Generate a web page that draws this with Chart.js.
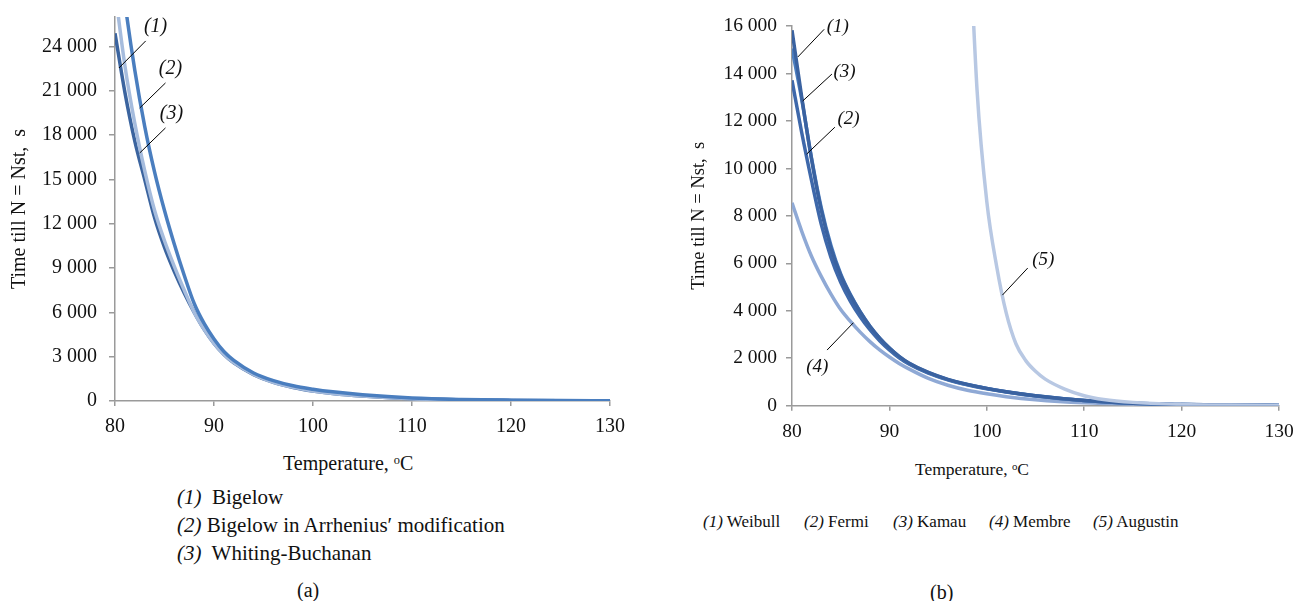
<!DOCTYPE html>
<html>
<head>
<meta charset="utf-8">
<script src="https://cdn.jsdelivr.net/npm/chart.js@4.4.1/dist/chart.umd.min.js"></script>
<style>
  body { margin: 0; width: 1296px; height: 601px; background: #fff; position: relative; overflow: hidden;
         font-family: "Liberation Serif", "Times New Roman", serif; color: #111; }
  .box { position: absolute; }
  .txt { position: absolute; white-space: nowrap; line-height: 1; }
  .txt i { font-style: italic; }
  .deg { font-size: 0.62em; position: relative; top: -0.5em; }
</style>
</head>
<body>
<div class="box" style="left:0;top:0"><canvas id="chartA" width="640" height="440"></canvas></div>
<div class="box" style="left:680px;top:0"><canvas id="chartB" width="616" height="440"></canvas></div>

<div class="txt" style="left:283px;top:453px;font-size:20px">Temperature, <span class="deg">o</span>C</div>
<div class="txt" style="left:177px;top:487px;font-size:21px"><i>(1)</i>&nbsp; Bigelow</div>
<div class="txt" style="left:177px;top:515px;font-size:21px"><i>(2)</i> Bigelow in Arrhenius′ modification</div>
<div class="txt" style="left:177px;top:543px;font-size:21px"><i>(3)</i>&nbsp; Whiting-Buchanan</div>
<div class="txt" style="left:297px;top:580px;font-size:20px">(a)</div>

<div class="txt" style="left:915px;top:461px;font-size:17.5px">Temperature, <span class="deg">o</span>C</div>
<div class="txt" style="left:703px;top:513px;font-size:17px"><i>(1)</i> Weibull</div>
<div class="txt" style="left:804px;top:513px;font-size:17px"><i>(2)</i> Fermi</div>
<div class="txt" style="left:893px;top:513px;font-size:17px"><i>(3)</i> Kamau</div>
<div class="txt" style="left:989px;top:513px;font-size:17px"><i>(4)</i> Membre</div>
<div class="txt" style="left:1093px;top:513px;font-size:17px"><i>(5)</i> Augustin</div>
<div class="txt" style="left:930px;top:582px;font-size:20px">(b)</div>

<script>
// temperatures, deg C
const temps = [80, 81, 82, 83, 84, 85, 86, 87, 88, 89, 90, 91, 92, 94, 96, 98, 100, 102, 105, 110, 115, 120, 125, 130];
const tempTicks = [80, 90, 100, 110, 120, 130];

// (a) time till N = Nst, s
const timeTicksA = [0, 3000, 6000, 9000, 12000, 15000, 18000, 21000, 24000];
const bigelow = [24900, 20900, 17600, 15000, 12400, 10400, 8750, 7300, 6000, 4850, 3900, 3150, 2580, 1790, 1260, 910, 670, 500, 330, 155, 78, 41, 22, 12];
const bigelowArrhenius = [32500, 27000, 22400, 18600, 15500, 12900, 10600, 8500, 6600, 5250, 4200, 3350, 2750, 1900, 1380, 1030, 800, 620, 420, 200, 100, 55, 30, 18];
const whitingBuchanan = [27800, 22700, 18800, 15600, 12900, 10850, 9100, 7500, 6000, 4850, 3900, 3150, 2600, 1800, 1270, 920, 680, 510, 340, 160, 80, 42, 23, 13];

// (b) time till N = Nst, s
const timeTicksB = [0, 2000, 4000, 6000, 8000, 10000, 12000, 14000, 16000];
const weibull = [15820, 13000, 10400, 8250, 6650, 5500, 4650, 3950, 3350, 2850, 2430, 2080, 1800, 1400, 1110, 900, 730, 590, 420, 220, 100, 50, 25, 12];
const fermi = [13710, 11500, 9500, 7650, 6250, 5200, 4400, 3750, 3200, 2740, 2350, 2020, 1760, 1370, 1090, 880, 715, 580, 410, 215, 98, 48, 24, 12];
const kamau = [15050, 12900, 10450, 8350, 6750, 5550, 4680, 3960, 3350, 2850, 2430, 2070, 1790, 1390, 1100, 890, 725, 585, 415, 218, 99, 49, 24, 12];
const membre = [8550, 7350, 6300, 5450, 4700, 4050, 3550, 3100, 2700, 2350, 2050, 1780, 1550, 1150, 860, 650, 500, 380, 250, 120, 60, 30, 15, 8];
const augustinTemps = [98, 99, 100, 101, 102, 103, 104, 105, 106, 108, 110, 112, 115, 120, 125, 130];
const augustin = [22000, 13300, 8600, 5900, 3900, 2600, 1900, 1450, 1120, 700, 420, 260, 140, 55, 25, 12];

// curve labels: [temp, time] of the leader start (on curve), leader end, label centre
const notesA = [
  { label: '(1)', from: [80.4, 22550], to: [83.1, 24380], at: [84.1, 25330] },
  { label: '(2)', from: [82.5, 19840], to: [85.1, 21535], at: [85.6, 22480] },
  { label: '(3)', from: [82.5, 16795], to: [85.1, 18490], at: [85.7, 19440] }
];
const notesB = [
  { label: '(1)', from: [80.6, 14695], to: [83.3, 15860], at: [84.7, 15945] },
  { label: '(3)', from: [81.1, 12840], to: [84.1, 13975], at: [85.4, 14060] },
  { label: '(2)', from: [81.5, 10600], to: [84.4, 11735], at: [85.8, 12070] },
  { label: '(4)', from: [86.3, 3495], to: [83.6, 2345], at: [82.6, 1630] },
  { label: '(5)', from: [101.6, 4660], to: [104.2, 5800], at: [105.8, 6135] }
];

Chart.defaults.font.family = '"Liberation Serif", "Times New Roman", serif';
Chart.defaults.color = '#111';

function points(xs, ys) {
  return xs.map((t, i) => ({ x: t, y: ys[i] }));
}

function thousands(v) {
  return String(v).replace(/\B(?=(\d{3})+(?!\d))/g, ' ');
}

function notesPlugin(notes, fontSize) {
  return {
    id: 'curveNotes',
    afterDatasetsDraw(chart) {
      const ctx = chart.ctx;
      const x = chart.scales.x, y = chart.scales.y;
      ctx.save();
      ctx.strokeStyle = '#000';
      ctx.lineWidth = 1;
      ctx.fillStyle = '#111';
      ctx.font = 'italic ' + fontSize + 'px "Liberation Serif", serif';
      ctx.textAlign = 'center';
      ctx.textBaseline = 'middle';
      notes.forEach(n => {
        ctx.beginPath();
        ctx.moveTo(x.getPixelForValue(n.from[0]), y.getPixelForValue(n.from[1]));
        ctx.lineTo(x.getPixelForValue(n.to[0]), y.getPixelForValue(n.to[1]));
        ctx.stroke();
        ctx.fillText(n.label, x.getPixelForValue(n.at[0]), y.getPixelForValue(n.at[1]));
      });
      ctx.restore();
    }
  };
}

function line(data, color) {
  return {
    data: data,
    borderColor: color,
    borderWidth: 3.5,
    pointRadius: 0,
    fill: false,
    cubicInterpolationMode: 'monotone'
  };
}

function makeChart(id, cfg) {
  const ctx = document.getElementById(id).getContext('2d');
  return new Chart(ctx, {
    type: 'line',
    data: { datasets: cfg.datasets },
    plugins: [notesPlugin(cfg.notes, cfg.noteSize)],
    options: {
      responsive: false,
      animation: false,
      events: [],
      layout: { padding: { top: cfg.top, right: cfg.right, left: 0, bottom: 0 } },
      plugins: { legend: { display: false }, tooltip: { enabled: false } },
      scales: {
        x: {
          type: 'linear',
          min: 80, max: 130,
          border: { color: '#9a9a9a', width: 1.5 },
          grid: { drawOnChartArea: false, drawTicks: true, tickLength: 5, color: '#9a9a9a', lineWidth: 1.5 },
          ticks: { padding: 9, maxRotation: 0, autoSkip: false, color: '#111', font: { size: cfg.fontSize } },
          afterBuildTicks: s => { s.ticks = tempTicks.map(v => ({ value: v })); },
          afterFit: s => { s.height = 440 - cfg.bottom; s.paddingLeft = 0; s.paddingRight = 0; }
        },
        y: {
          min: 0, max: cfg.yMax,
          border: { color: '#9a9a9a', width: 1.5 },
          grid: { drawOnChartArea: false, drawTicks: true, tickLength: 6, color: '#9a9a9a', lineWidth: 1.5 },
          ticks: { padding: cfg.yPad, autoSkip: false, color: '#111', font: { size: cfg.fontSize }, callback: v => thousands(v) },
          afterBuildTicks: s => { s.ticks = cfg.yTicks.map(v => ({ value: v })); },
          title: { display: true, text: 'Time till N = Nst,  s', color: '#111',
                   font: { size: cfg.titleSize }, padding: { top: 8, bottom: 0 } },
          afterFit: s => { s.width = cfg.left; s.paddingTop = 0; s.paddingBottom = 0; }
        }
      }
    }
  });
}

// (a): first dataset is drawn on top
makeChart('chartA', {
  datasets: [
    line(points(temps, bigelowArrhenius), '#4a7ebf'),
    line(points(temps, whitingBuchanan), '#a6bcdd'),
    line(points(temps, bigelow), '#3b649f')
  ],
  notes: notesA,
  fontSize: 20, titleSize: 20, noteSize: 20, yPad: 12,
  yMax: 26000, yTicks: timeTicksA,
  top: 17, right: 30, left: 115, bottom: 401
});

// (b)
makeChart('chartB', {
  datasets: [
    line(points(augustinTemps, augustin), '#b8c8e3'),
    line(points(temps, weibull), '#3a62a0'),
    line(points(temps, kamau), '#4c7fc0'),
    line(points(temps, fermi), '#3e68aa'),
    line(points(temps, membre), '#8fa9d5')
  ],
  notes: notesB,
  fontSize: 19.5, titleSize: 18.5, noteSize: 19, yPad: 9,
  yMax: 16000, yTicks: timeTicksB,
  top: 26, right: 17, left: 112, bottom: 405.7
});
</script>
</body>
</html>
